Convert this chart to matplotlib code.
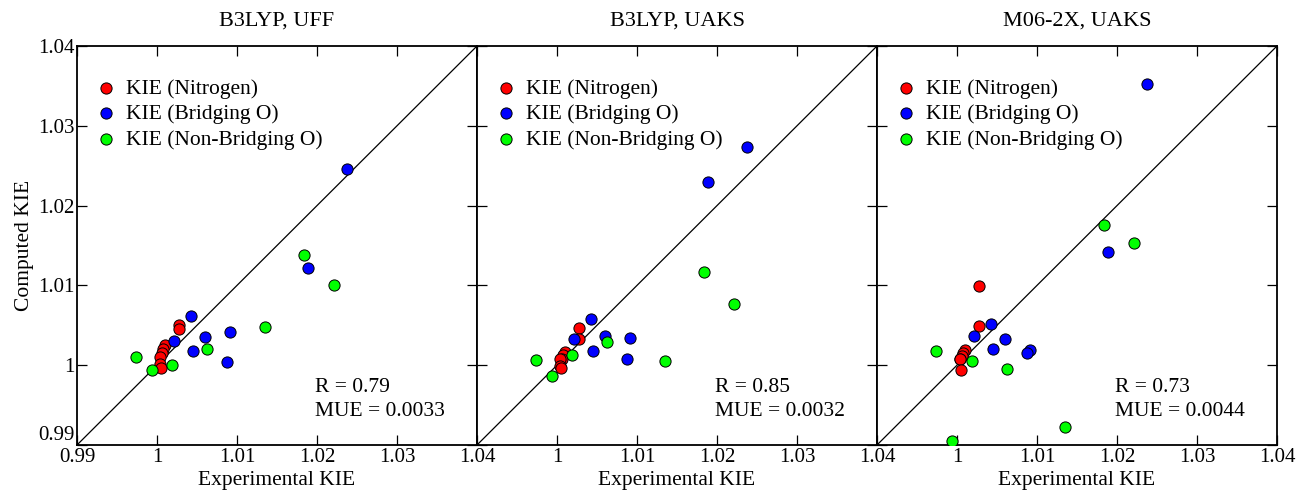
import numpy as np
import matplotlib
matplotlib.use("Agg")
import matplotlib.pyplot as plt

plt.rcParams['font.family'] = ['Liberation Serif', 'DejaVu Serif']

# experimental KIEs (shared by all three panels)
exp_n = [1.0027, 1.0028, 1.0010, 1.0008, 1.0006, 1.0004, 1.0004, 1.0005]
exp_bo = [1.0237, 1.0189, 1.0042, 1.0021, 1.0060, 1.0091, 1.0045, 1.0087]
exp_nbo = [1.0184, 1.0221, 1.0135, 1.0063, 1.0019, 0.9974, 0.9994]

# computed KIEs per method
titles = ["B3LYP, UFF", "B3LYP, UAKS", "M06-2X, UAKS"]
comp_n = [
    [1.0050, 1.0045, 1.0025, 1.0020, 1.0015, 1.0010, 1.0002, 0.9996],
    [1.0047, 1.0033, 1.0017, 1.0013, 1.0008, 1.0008, 0.9999, 0.9996],
    [1.0099, 1.0049, 1.0019, 1.0015, 1.0011, 1.0008, 1.0008, 0.9994],
]
comp_bo = [
    [1.0246, 1.0122, 1.0062, 1.0030, 1.0035, 1.0041, 1.0018, 1.0004],
    [1.0273, 1.0229, 1.0058, 1.0033, 1.0037, 1.0034, 1.0018, 1.0008],
    [1.0352, 1.0142, 1.0052, 1.0037, 1.0033, 1.0019, 1.0020, 1.0015],
]
comp_nbo = [
    [1.0138, 1.0100, 1.0048, 1.0020, 1.0000, 1.0010, 0.9994],
    [1.0117, 1.0077, 1.0005, 1.0029, 1.0013, 1.0007, 0.9986],
    [1.0176, 1.0153, 0.9922, 0.9995, 1.0005, 1.0018, 0.9905],
]
r_vals = ["0.79", "0.85", "0.73"]
mue_vals = ["0.0033", "0.0032", "0.0044"]

ticks = [0.99, 1.0, 1.01, 1.02, 1.03, 1.04]
tick_labels = ["0.99", "1", "1.01", "1.02", "1.03", "1.04"]
lim = (0.99, 1.04)

fs = 15.5
fig = plt.figure(figsize=(13, 4.91), dpi=100)
W, H = 1300, 491
for i in range(3):
    x0 = 77 + 400 * i
    ax = fig.add_axes([x0 / W, 46 / H, 400 / W, 399 / H])
    ax.plot(lim, lim, color='black', lw=0.9, zorder=1)
    kw = dict(s=65, edgecolors='black', linewidths=0.7, zorder=3)
    ax.scatter(exp_n, comp_n[i], color='red', label='KIE (Nitrogen)', **kw)
    ax.scatter(exp_bo, comp_bo[i], color='blue', label='KIE (Bridging O)', **kw)
    ax.scatter(exp_nbo, comp_nbo[i], color='#00ff00', label='KIE (Non-Bridging O)', **kw)
    ax.set_xlim(*lim)
    ax.set_ylim(*lim)
    ax.set_xticks(ticks)
    xl = list(tick_labels)
    if i > 0:
        xl[0] = ""
    ax.set_xticklabels(xl, fontsize=15)
    ax.set_yticks(ticks)
    if i == 0:
        ax.set_yticklabels(tick_labels, fontsize=15)
        ax.set_ylabel("Computed KIE", fontsize=fs, labelpad=3)
        # lowest y label sits a little high in the original
        ax.get_yticklabels()[0].set_verticalalignment('bottom')
    else:
        ax.set_yticklabels([])
    ax.tick_params(direction='in', length=7, width=0.9, top=True, right=True, pad=2)
    for s in ax.spines.values():
        s.set_linewidth(1.3)
    ax.set_xlabel("Experimental KIE", fontsize=fs, labelpad=3)
    ax.set_title(titles[i], fontsize=16, pad=15)
    ax.text(0.595, 0.145, "R = " + r_vals[i], transform=ax.transAxes,
            fontsize=fs, va='center', ha='left')
    ax.text(0.595, 0.083, "MUE = " + mue_vals[i], transform=ax.transAxes,
            fontsize=fs, va='center', ha='left')
    ax.legend(loc='upper left', bbox_to_anchor=(0.025, 0.94), frameon=False,
              fontsize=fs, handletextpad=0.4, labelspacing=0.25,
              borderaxespad=0, scatterpoints=1, handlelength=1.0)

fig.savefig("out.png", dpi=100)
